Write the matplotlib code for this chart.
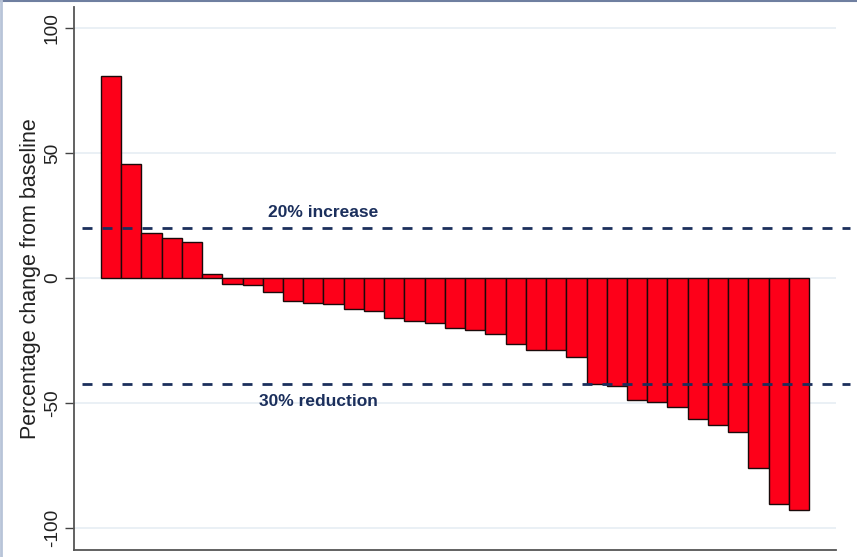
import matplotlib
matplotlib.use("Agg")
import matplotlib.pyplot as plt
from matplotlib.lines import Line2D
import numpy as np

# Best percentage change from baseline per patient, sorted (waterfall)
patients = list(range(1, 36))
pct_change = [80.6, 45.7, 17.8, 15.9, 14.5, 1.6, -2.3, -3.0, -5.6, -9.4,
              -10.2, -10.4, -12.4, -13.4, -16.0, -17.4, -18.0, -20.0, -20.8, -22.6,
              -26.3, -28.7, -29.0, -31.8, -42.4, -43.1, -48.8, -49.7, -51.8, -56.4,
              -59.0, -61.6, -76.0, -90.3, -92.8]
y_ticks = [100, 50, 0, -50, -100]
thresholds = [20, -42.5]
threshold_labels = ["20% increase", "30% reduction"]

W, H = 857, 557
fig = plt.figure(figsize=(W / 100, H / 100), dpi=100)
plt.rcParams["lines.scale_dashes"] = False

ax_l, ax_r, ax_b, ax_t = 74, 836, 550, 7
ax = fig.add_axes([ax_l / W, (H - ax_b) / H, (ax_r - ax_l) / W, (ax_b - ax_t) / H])

navy = "#1b2f5c"
grid_c = "#e6eef4"

ax.bar(patients, pct_change, width=1.0, color="#fd0019", edgecolor="#1a0a0a",
       linewidth=1.0, zorder=3)

ax.set_xlim(-0.83, 36.83)
ax.set_ylim(-108.8, 108.4)
ax.set_yticks(y_ticks)
ax.set_yticklabels([str(v) for v in y_ticks], rotation=90, va="center",
                   fontsize=13.8, family="Liberation Sans", color="#222222")
ax.set_xticks([])
ax.tick_params(axis="y", length=6.5, width=1.0, color="#444444", pad=3)
for v in y_ticks:
    ax.axhline(v, color=grid_c, linewidth=1.2, zorder=1)

for s in ["top", "right"]:
    ax.spines[s].set_visible(False)
for s in ["left", "bottom"]:
    ax.spines[s].set_color("#555555")
    ax.spines[s].set_linewidth(1.3)

ax.set_ylabel("Percentage change from baseline", fontsize=15.5,
              family="Liberation Sans", color="#222222", labelpad=2)

x0 = (82 - ax_l) / (ax_r - ax_l)
x1 = (850 - ax_l) / (ax_r - ax_l)
for t in thresholds:
    ax.axhline(t, xmin=x0, xmax=x1, color=navy, linewidth=2.0,
               dashes=(7.2, 7.2), clip_on=False, zorder=4)

ax.text(11.5, 26, threshold_labels[0], ha="center", va="center",
        fontsize=12.5, fontweight="bold", family="Liberation Sans", color=navy)
ax.text(11.27, -49.5, threshold_labels[1], ha="center", va="center",
        fontsize=12.5, fontweight="bold", family="Liberation Sans", color=navy)

# thin frame edges
fig.add_artist(Line2D([0, 1], [1 - 0.8 / H, 1 - 0.8 / H], color="#6f7fa0",
                      linewidth=1.5, transform=fig.transFigure))
fig.add_artist(Line2D([1.2 / W, 1.2 / W], [0, 1], color="#b8c4d8",
                      linewidth=2.0, transform=fig.transFigure))

fig.savefig("out.png", dpi=100)
